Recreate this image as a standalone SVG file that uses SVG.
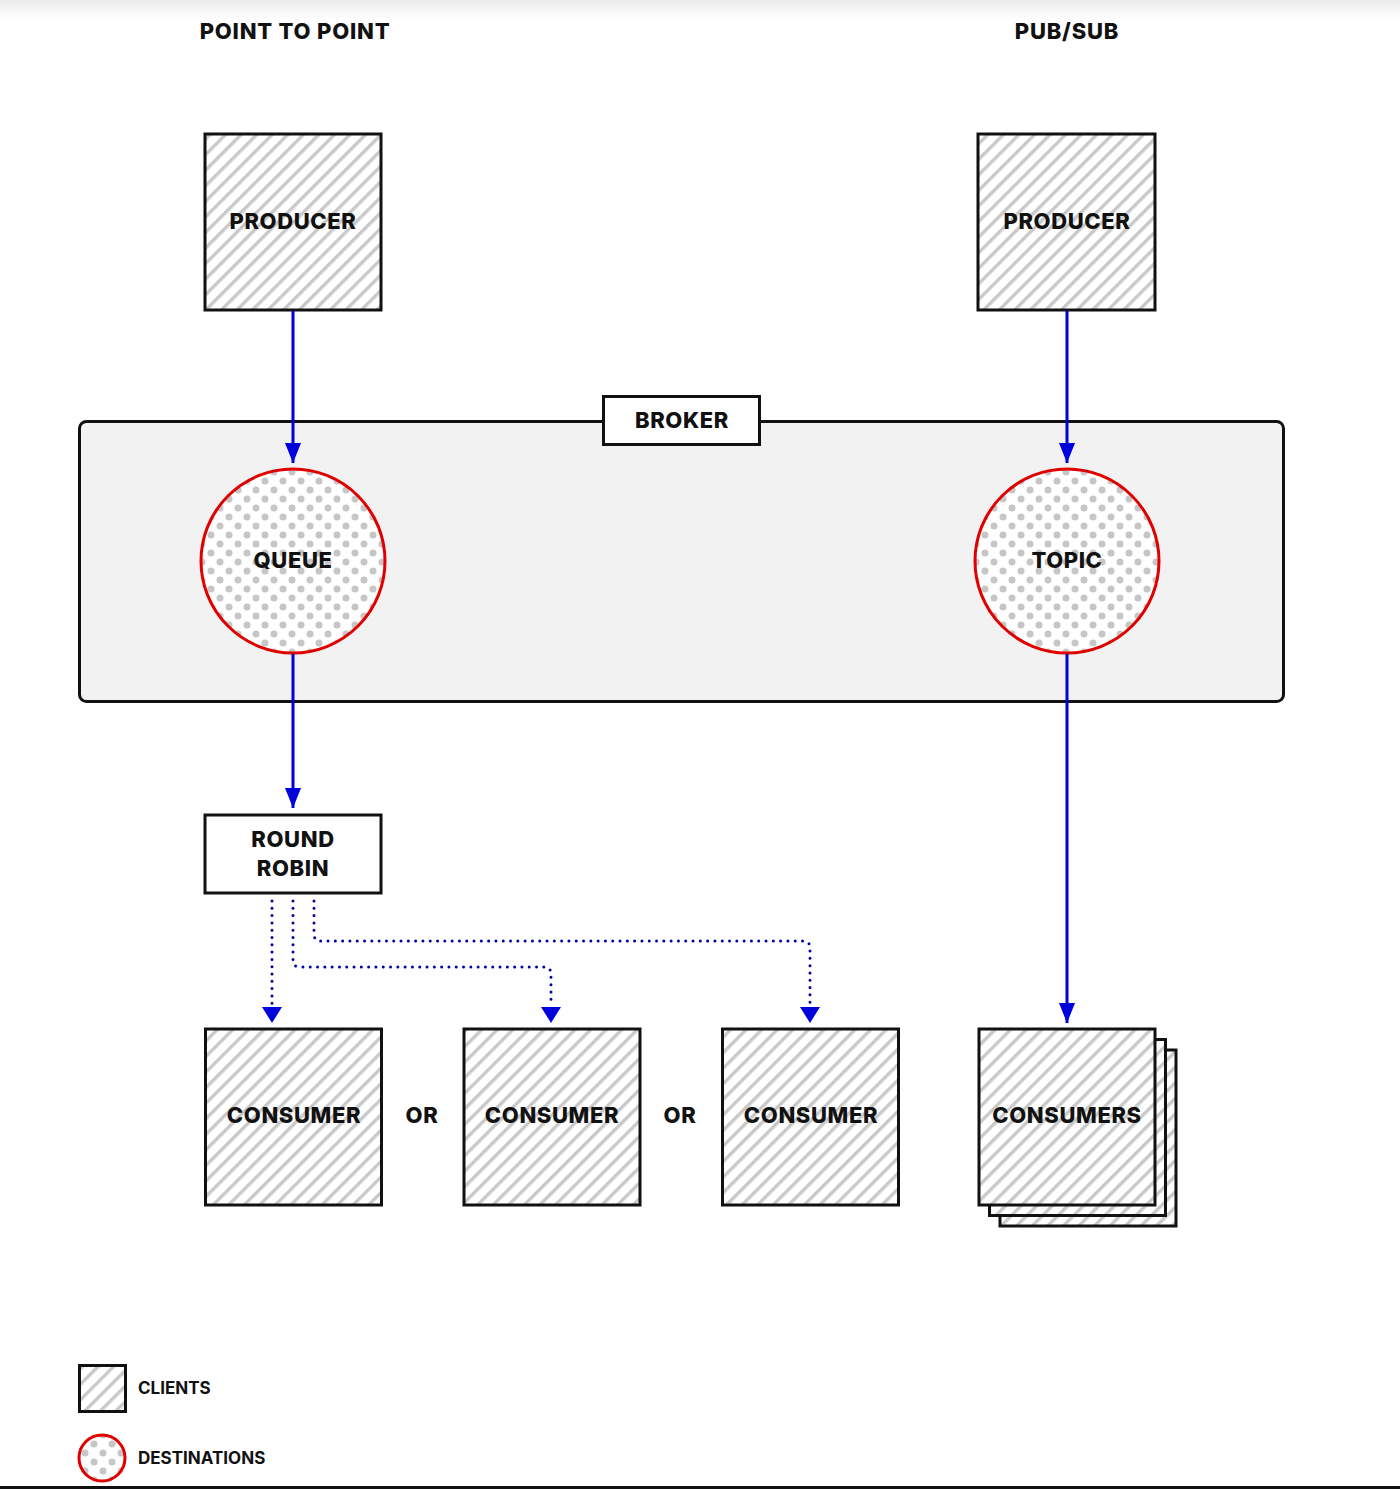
<svg xmlns="http://www.w3.org/2000/svg" width="1400" height="1489" viewBox="0 0 1400 1489">
<style>
text{font-family:Inter,"Open Sans","Liberation Sans",sans-serif;font-weight:800;fill:#111;text-anchor:middle;dominant-baseline:central}
.lbl{font-size:22px;letter-spacing:0.6px}
.client{fill:url(#hatch);stroke:#111;stroke-width:3}
.dest{fill:url(#dots);stroke:#e00000;stroke-width:3}
.flow{stroke:#0000dd;stroke-width:3;fill:none;marker-end:url(#ah)}
.dot{stroke:#0000aa;stroke-width:3;fill:none;stroke-dasharray:0 7.3;stroke-linecap:round;stroke-linejoin:round}
.legend{font-size:17px;text-anchor:start;font-weight:700}
</style>
<defs>
<linearGradient id="topg" x1="0" y1="0" x2="0" y2="1">
<stop offset="0" stop-color="#ececec"/><stop offset="1" stop-color="#ffffff"/>
</linearGradient>
<pattern id="hatch" patternUnits="userSpaceOnUse" width="11" height="11" patternTransform="rotate(45)">
<rect width="11" height="11" fill="#fff"/>
<rect x="0" y="0" width="3.4" height="11" fill="#c9c9c9"/>
</pattern>
<pattern id="dots" patternUnits="userSpaceOnUse" width="18" height="18">
<rect width="18" height="18" fill="#fff"/>
<circle cx="4" cy="4" r="3.5" fill="#c6c6c6"/>
<circle cx="13" cy="13" r="3.5" fill="#c6c6c6"/>
</pattern>
<marker id="ah" viewBox="0 0 20 16" refX="20" refY="8" markerWidth="20" markerHeight="16" markerUnits="userSpaceOnUse" orient="auto">
<path d="M0,0 L20,8 L0,16 Z" fill="#0000dd"/>
</marker>
</defs>
<rect width="1400" height="1489" fill="#fff"/>
<rect width="1400" height="20" fill="url(#topg)"/>
<line x1="0" y1="1487.5" x2="1400" y2="1487.5" stroke="#111" stroke-width="3"/>

<g id="title-p2p"><text x="295" y="31" class="lbl" style="font-size:22px;letter-spacing:0.8px">POINT TO POINT</text></g>
<g id="title-pubsub"><text x="1067" y="31" class="lbl" style="font-size:22px;letter-spacing:0.8px">PUB/SUB</text></g>

<g id="broker">
<rect x="79.5" y="421.5" width="1204" height="280" rx="7" fill="#f2f2f2" stroke="#111" stroke-width="3"/>
<rect x="603.5" y="396.5" width="156" height="48" fill="#fff" stroke="#111" stroke-width="3"/>
<text x="682" y="420" class="lbl">BROKER</text>
</g>

<g id="producer-p2p">
<rect x="205" y="134" width="176" height="176" class="client"/>
<text x="293" y="221" class="lbl">PRODUCER</text>
</g>
<g id="producer-pubsub">
<rect x="978" y="134" width="177" height="176" class="client"/>
<text x="1067" y="221" class="lbl">PRODUCER</text>
</g>

<g id="queue">
<circle cx="293" cy="561" r="92" class="dest"/>
<text x="293" y="560" class="lbl">QUEUE</text>
</g>
<g id="topic">
<circle cx="1067" cy="561" r="92" class="dest"/>
<text x="1067" y="560" class="lbl">TOPIC</text>
</g>

<g id="round-robin">
<rect x="205" y="815" width="176" height="78" fill="#fff" stroke="#111" stroke-width="3"/>
<text x="293" y="839" class="lbl">ROUND</text>
<text x="293" y="868" class="lbl">ROBIN</text>
</g>

<g id="consumer-1">
<rect x="205.5" y="1029" width="176" height="176" class="client"/>
<text x="294" y="1115" class="lbl">CONSUMER</text>
</g>
<g id="or-1"><text x="422" y="1115" class="lbl">OR</text></g>
<g id="consumer-2">
<rect x="464" y="1029" width="176" height="176" class="client"/>
<text x="552" y="1115" class="lbl">CONSUMER</text>
</g>
<g id="or-2"><text x="680" y="1115" class="lbl">OR</text></g>
<g id="consumer-3">
<rect x="722.5" y="1029" width="176" height="176" class="client"/>
<text x="811" y="1115" class="lbl">CONSUMER</text>
</g>

<g id="consumers">
<rect x="1000" y="1050" width="176" height="176" class="client"/>
<rect x="989.5" y="1039.5" width="176" height="176" class="client"/>
<rect x="979" y="1029" width="176" height="176" class="client"/>
<text x="1067" y="1115" class="lbl">CONSUMERS</text>
</g>

<g id="connectors">
<line x1="293" y1="311" x2="293" y2="463" class="flow"/>
<line x1="1067" y1="311" x2="1067" y2="463" class="flow"/>
<line x1="293" y1="654" x2="293" y2="808" class="flow"/>
<line x1="1067" y1="654" x2="1067" y2="1023" class="flow"/>
<path d="M272,901 V1005" class="dot"/>
<path d="M293,901 V960 Q293,967 300,967 H544 Q551,967 551,974 V1005" class="dot"/>
<path d="M314,901 V934 Q314,941 321,941 H803 Q810,941 810,948 V1005" class="dot"/>
<path d="M262,1007 L282,1007 L272,1023 Z" fill="#0000dd"/>
<path d="M541,1007 L561,1007 L551,1023 Z" fill="#0000dd"/>
<path d="M800,1007 L820,1007 L810,1023 Z" fill="#0000dd"/>
</g>

<g id="legend-clients">
<rect x="79.5" y="1365.5" width="46" height="46" class="client"/>
<text x="138" y="1388" class="legend">CLIENTS</text>
</g>
<g id="legend-destinations">
<circle cx="102" cy="1458" r="23" class="dest"/>
<text x="138" y="1458" class="legend">DESTINATIONS</text>
</g>
</svg>
